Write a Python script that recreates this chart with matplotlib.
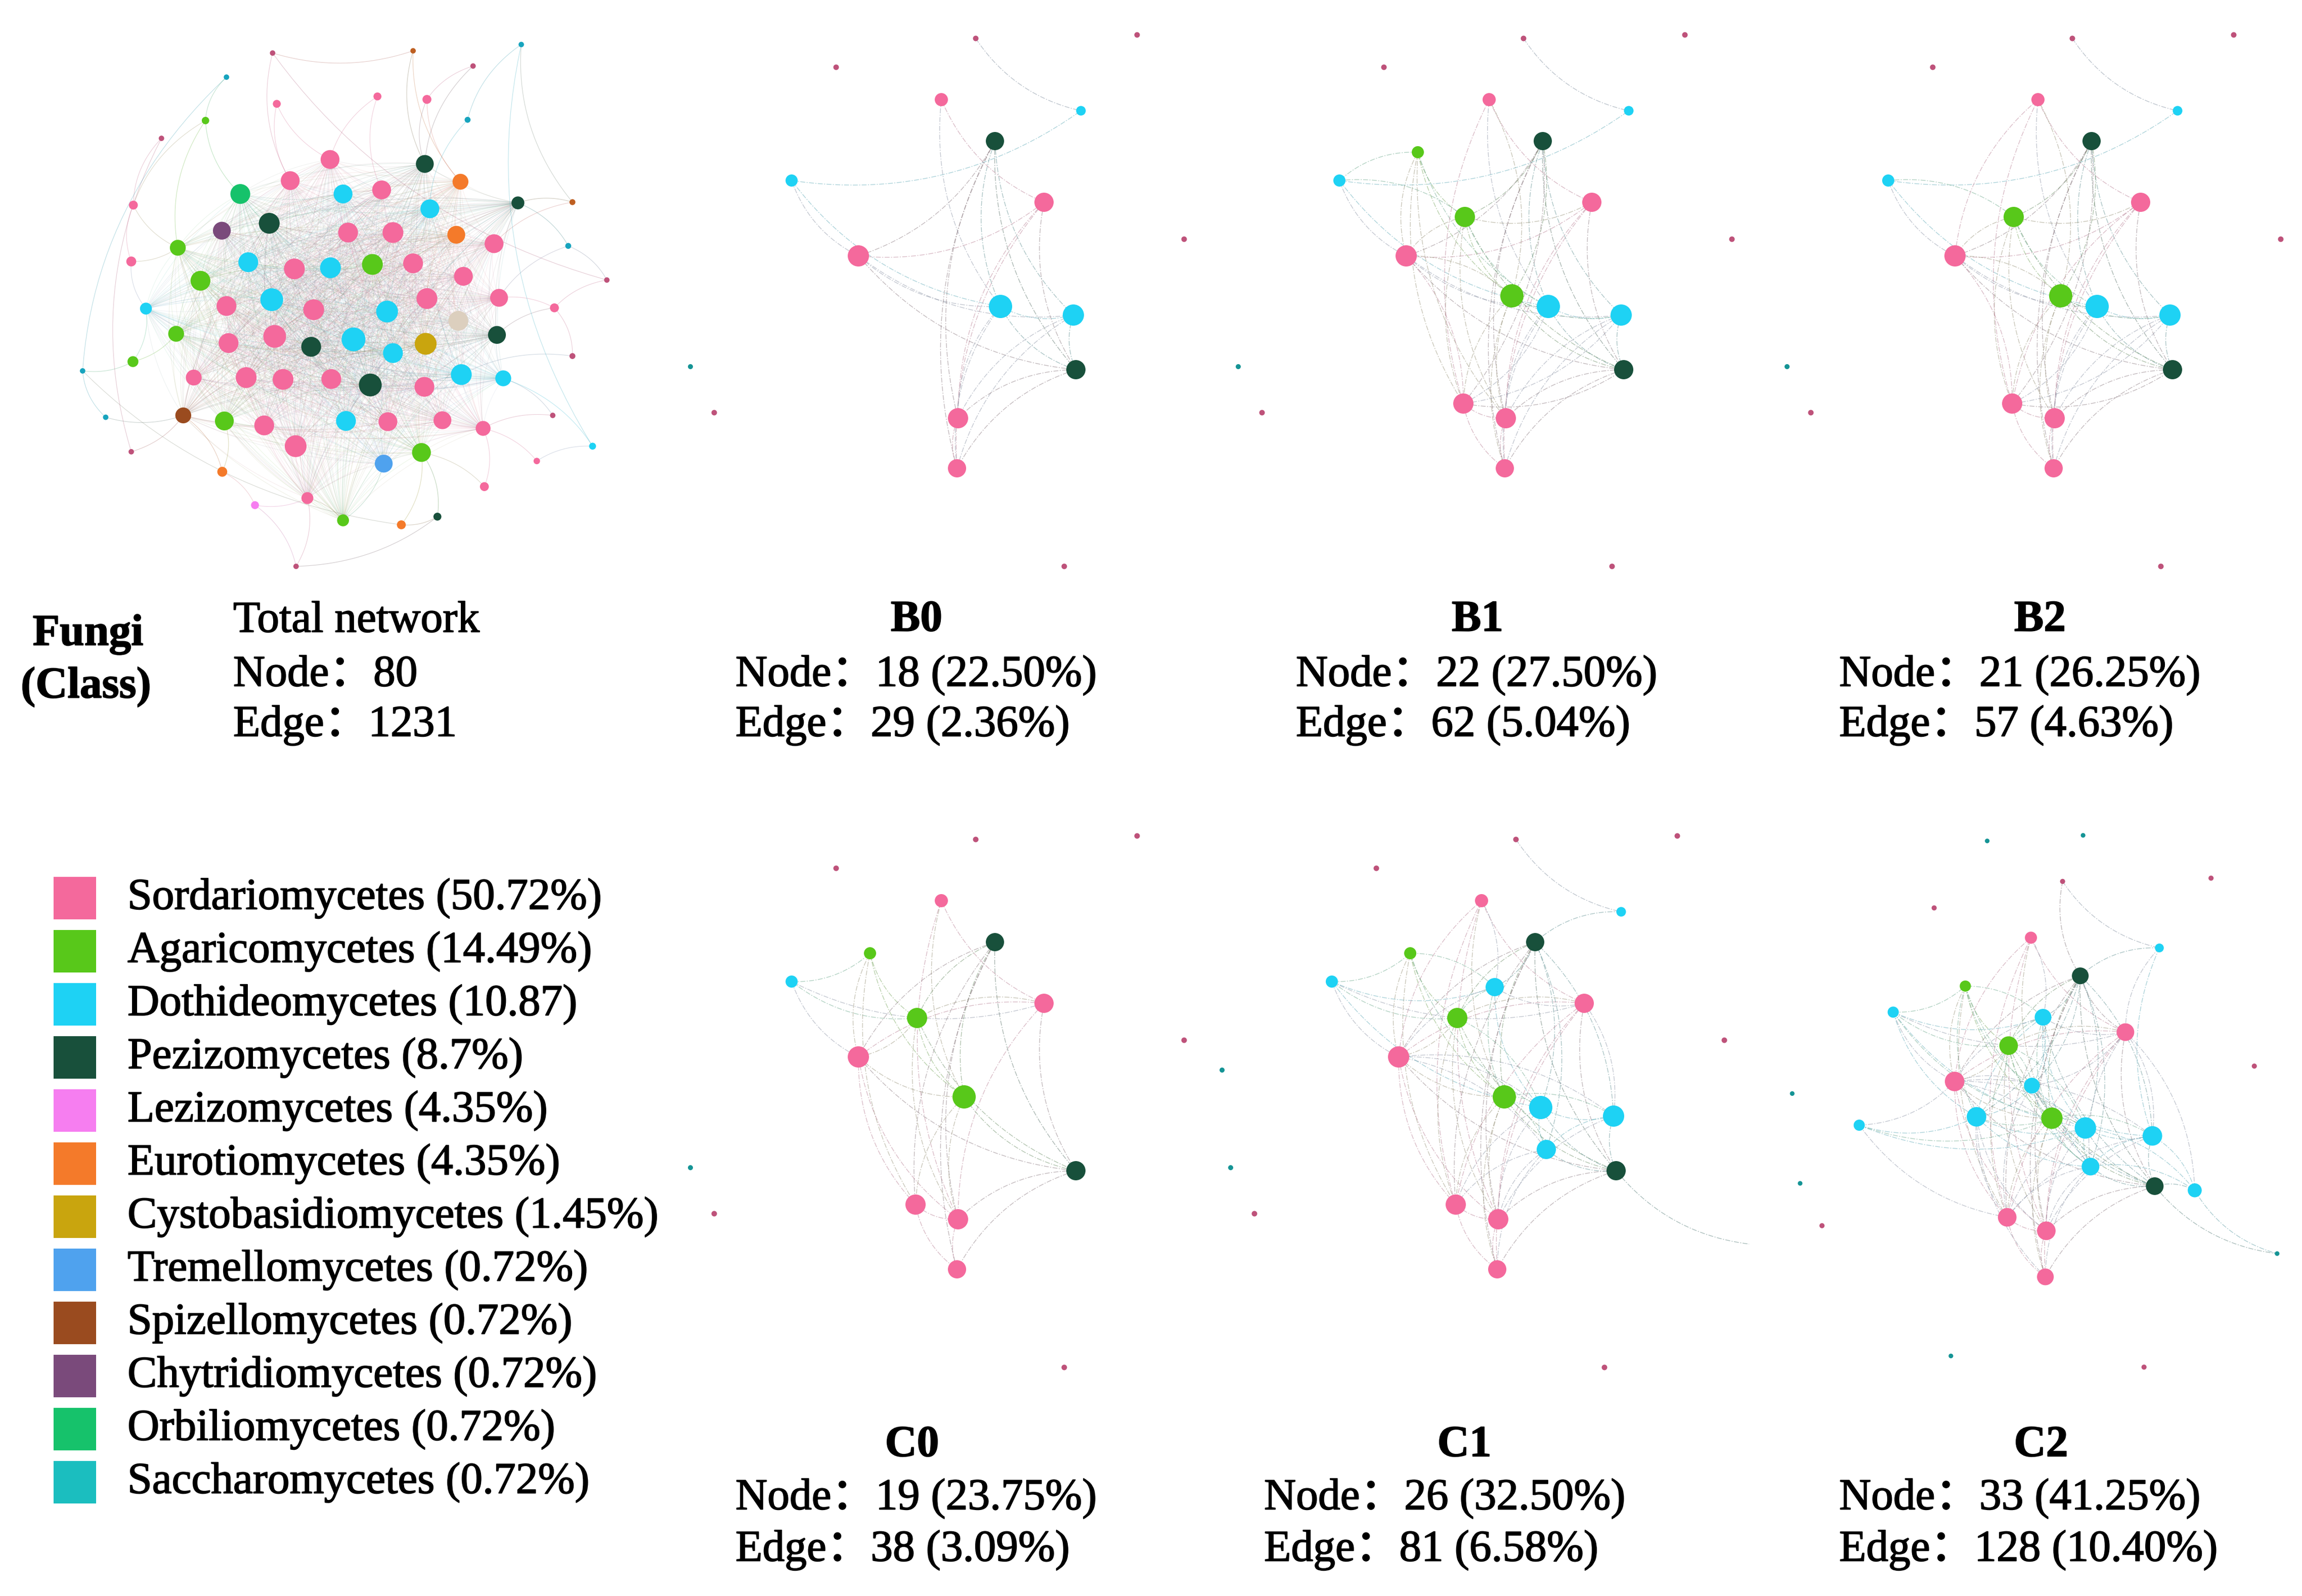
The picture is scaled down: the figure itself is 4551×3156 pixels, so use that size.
import numpy as np
import matplotlib
matplotlib.use('Agg')
import matplotlib.pyplot as plt
import matplotlib.patheffects as pe
from matplotlib.collections import LineCollection
from matplotlib.colors import to_rgb

# Co-occurrence networks of fungal classes: total network + six sub-networks
W, H = 4551, 3156
plt.rcParams['font.family'] = ['Liberation Serif', 'Noto Sans CJK SC']

###########################################################
# 1. Data
###########################################################
class_codes = ['S', 'A', 'D', 'P', 'L', 'E', 'C', 'T', 'Z', 'H', 'O', 'Y']
class_names = ['Sordariomycetes', 'Agaricomycetes', 'Dothideomycetes', 'Pezizomycetes',
               'Lezizomycetes', 'Eurotiomycetes', 'Cystobasidiomycetes', 'Tremellomycetes',
               'Spizellomycetes', 'Chytridiomycetes', 'Orbiliomycetes', 'Saccharomycetes']
class_share = ['(50.72%)', '(14.49%)', '(10.87)', '(8.7%)', '(4.35%)', '(4.35%)',
               '(1.45%)', '(0.72%)', '(0.72%)', '(0.72%)', '(0.72%)', '(0.72%)']
class_colors = ['#F4699C', '#58C81A', '#1ED2F4', '#18503B', '#F67EF0', '#F47A2A',
                '#C9A50E', '#4FA2EE', '#9A4B1F', '#7A4A7B', '#16C26B', '#1BBEBF']
unknown_color = '#DCCFBE'

# Total network (layout units), class code and node diameter
tot_x = [650, 985, 1243, 1128, 540, 660, 900, 1018, 1115, 490,
         385, 787, 1013, 1098, 692, 573, 818, 910, 1235, 1365,
         318, 1025, 642, 529, 830, 937, 1088, 1178, 1355, 424,
         313, 592, 702, 788, 888, 985, 1105, 1447, 478, 648,
         748, 923, 1018, 1190, 1322, 348, 540, 1093, 420, 545,
         655, 742, 843, 1015, 937, 1185, 1365, 317, 197, 462,
         587, 675, 790, 883, 1012, 1100, 1200, 437, 535, 630,
         825, 925, 1055, 1152, 1318, 252, 705, 1005, 915, 1413,
         313, 1280, 530, 1155, 733, 608, 818, 957, 1043, 706]
tot_y = [143, 137, 120, 178, 208, 280, 260, 268, 323, 325,
         373, 430, 442, 490, 487, 523, 523, 512, 547, 545,
         553, 563, 602, 622, 627, 627, 633, 657, 663, 668,
         705, 707, 725, 722, 713, 710, 745, 755, 757, 808,
         835, 840, 805, 803, 830, 832, 825, 865, 900, 925,
         907, 935, 915, 927, 952, 903, 960, 975, 1000, 1018,
         1018, 1023, 1022, 1038, 1043, 1010, 1020, 1120, 1135, 1147,
         1135, 1137, 1133, 1155, 1120, 1125, 1203, 1220, 1250, 1203,
         1218, 1243, 1272, 1312, 1343, 1362, 1403, 1415, 1393, 1527]
tot_cls = ['S', 'E', 'D', 'S', 'D', 'S', 'S', 'S', 'D', 'A',
           'S', 'S', 'P', 'E', 'S', 'O', 'D', 'S', 'P', 'E',
           'S', 'D', 'P', 'H', 'S', 'S', 'E', 'S', 'D', 'A',
           'S', 'D', 'S', 'D', 'A', 'S', 'S', 'S', 'A', 'D',
           'S', 'D', 'S', 'S', 'S', 'D', 'S', 'U', 'A', 'S',
           'S', 'P', 'D', 'C', 'D', 'P', 'S', 'A', 'D', 'S',
           'S', 'S', 'S', 'P', 'S', 'D', 'D', 'Z', 'A', 'S',
           'D', 'S', 'S', 'S', 'S', 'D', 'S', 'A', 'T', 'D',
           'S', 'S', 'E', 'S', 'S', 'L', 'A', 'E', 'P', 'S']
tot_size = [11, 11, 11, 11, 11, 16, 16, 18, 12, 15,
            11, 38, 36, 32, 38, 40, 38, 38, 26, 12,
            18, 38, 42, 36, 40, 42, 36, 38, 12, 32,
            20, 40, 42, 42, 42, 40, 38, 11, 40, 46,
            42, 44, 42, 36, 18, 24, 40, 40, 32, 40,
            46, 40, 48, 44, 40, 36, 12, 22, 11, 32,
            42, 42, 40, 46, 40, 42, 32, 32, 38, 40,
            40, 38, 36, 30, 11, 11, 44, 38, 36, 14,
            11, 13, 20, 18, 24, 16, 24, 18, 16, 11]
# links of the peripheral nodes (1-based ids); the core (size >= 24) is densely linked
tot_outer_edges = [(1, 2), (1, 15), (2, 13), (2, 14), (3, 9), (4, 8), (4, 13), (5, 10),
                   (6, 15), (6, 12), (7, 12), (7, 18), (8, 13), (8, 14), (9, 22), (10, 21),
                   (10, 30), (10, 16), (11, 21), (20, 19), (20, 28), (21, 30), (21, 31),
                   (29, 19), (29, 44), (31, 46), (31, 30), (38, 45), (38, 29), (45, 44),
                   (45, 56), (57, 45), (57, 66), (58, 49), (58, 46), (59, 58), (59, 76),
                   (75, 67), (75, 74), (76, 68), (80, 67), (80, 82), (81, 68), (82, 74),
                   (83, 69), (83, 68), (84, 74), (84, 78), (86, 85), (86, 83), (87, 79),
                   (87, 85), (88, 89), (88, 78), (89, 78), (90, 85), (90, 86), (59, 88),
                   (3, 80), (11, 81), (5, 59), (1, 38), (3, 20), (90, 89)]

# Shared layout of the sub-networks (node id -> x, y, class, diameter)
sub_id = [1, 2, 3, 4, 5, 6, 7, 8, 9, 10, 11, 12, 13, 15, 16, 17, 18, 19,
          20, 21, 22, 23, 25, 26, 30, 31, 32, 33, 34, 35, 36, 37, 38]
sub_x = [1653, 1929, 2248, 1861, 2137, 1967, 1565, 2064, 2341, 1697, 1978, 2122, 1365,
         2127, 1412, 1894, 1892, 2104, 1720, 1813, 1906, 1810, 1887, 1989, 1767, 1973,
         1348, 1863, 1744, 1492, 2213, 2390, 1689]
sub_y = [133, 76, 69, 197, 219, 279, 357, 400, 473, 506, 606, 623, 725,
         731, 816, 827, 926, 1120, 301, 429, 585, 798, 368, 689, -11, -23,
         532, 515, 582, 600, 740, 876, 1096]
sub_cls = ['S', 'S', 'S', 'S', 'D', 'P', 'D', 'S', 'S', 'S', 'D', 'D', 'Y',
           'P', 'S', 'S', 'S', 'S', 'A', 'A', 'A', 'S', 'D', 'D', 'Y', 'Y',
           'Y', 'D', 'D', 'D', 'D', 'Y', 'Y']
sub_size = [11, 11, 11, 26, 19, 36, 24, 38, 11, 42, 46, 42, 10,
            38, 11, 40, 36, 11, 24, 40, 46, 40, 36, 38, 10, 10,
            10, 34, 42, 24, 30, 10, 10]

b0_nodes = [1, 2, 3, 4, 5, 6, 7, 8, 9, 10, 11, 12, 13, 15, 16, 17, 18, 19]
b1_nodes = b0_nodes + [20, 21, 22, 23]
b2_nodes = b0_nodes + [21, 22, 23]
c0_nodes = [1, 2, 3, 4, 6, 7, 8, 9, 10, 13, 15, 16, 17, 18, 19, 20, 21, 22, 23]
c1_nodes = c0_nodes + [5, 11, 12, 25, 26, 32]
c2_nodes = c1_nodes + [30, 31, 33, 34, 35, 36, 37, 38]

b0_edges = [(2, 5), (7, 5), (7, 10), (7, 11), (10, 6), (10, 8), (10, 11), (10, 12), (10, 15),
            (4, 11), (4, 8), (6, 11), (6, 12), (6, 15), (6, 17), (6, 18), (8, 17), (8, 18),
            (8, 15), (11, 12), (11, 15), (11, 17), (11, 18), (12, 15), (12, 17), (12, 18),
            (15, 17), (15, 18), (17, 18)]
b1_extra = [(20, 7), (20, 10), (20, 21), (20, 22), (20, 11), (20, 23), (20, 17),
            (21, 10), (21, 6), (21, 7), (21, 22), (21, 8), (21, 17), (21, 23), (21, 15),
            (21, 11), (22, 11), (22, 12), (22, 15), (22, 17), (22, 18), (22, 23), (22, 10),
            (22, 6), (22, 4), (23, 10), (23, 11), (23, 12), (23, 15), (23, 17), (23, 18),
            (23, 6), (4, 23)]
b1_edges = b0_edges + b1_extra
b2_edges = [e for e in b1_edges if 20 not in e] + [(4, 10), (8, 23)]
c0_edges = [(7, 20), (7, 10), (7, 21), (7, 8), (20, 10), (20, 21), (20, 23), (20, 22),
            (4, 22), (4, 8), (4, 17), (6, 10), (6, 21), (6, 22), (6, 15), (6, 23), (6, 17),
            (6, 18), (8, 10), (8, 21), (8, 17), (8, 15), (10, 21), (10, 22), (10, 15),
            (10, 23), (10, 17), (21, 22), (21, 15), (21, 17), (22, 15), (22, 23), (22, 17),
            (23, 17), (23, 18), (17, 18), (15, 17), (15, 18)]
c1_extra = [(2, 5), (5, 6), (7, 25), (25, 6), (25, 10), (25, 22), (25, 11), (25, 8),
            (25, 21), (25, 20), (25, 4), (11, 22), (11, 12), (11, 26), (11, 15), (11, 10),
            (11, 6), (11, 23), (11, 17), (11, 21), (12, 15), (12, 26), (12, 6), (12, 8),
            (12, 22), (12, 10), (12, 17), (26, 15), (26, 22), (26, 23), (26, 17), (26, 10),
            (26, 6), (26, 18), (15, 37), (4, 10), (4, 23), (8, 23), (8, 18), (21, 23),
            (20, 11), (7, 11), (22, 18)]
c1_edges = c0_edges + c1_extra
c2_extra = [(36, 37), (36, 15), (36, 12), (36, 26), (36, 11), (36, 8), (35, 10), (35, 34),
            (35, 11), (35, 22), (34, 10), (34, 22), (34, 11), (34, 21), (34, 23), (34, 17),
            (34, 18), (34, 6), (34, 26), (34, 33), (33, 10), (33, 22), (33, 11), (33, 6),
            (33, 21), (33, 25), (33, 8), (33, 12), (33, 15), (33, 26), (33, 23), (5, 8),
            (5, 12), (2, 6), (7, 34), (7, 22), (20, 34), (20, 33), (25, 34), (25, 26),
            (25, 15), (22, 26), (21, 26), (12, 23), (8, 26), (6, 8), (35, 23)]
c2_edges = c1_edges + c2_extra

panel_titles = ['B0', 'B1', 'B2', 'C0', 'C1', 'C2']
panel_node_text = ['18 (22.50%)', '22 (27.50%)', '21 (26.25%)',
                   '19 (23.75%)', '26 (32.50%)', '33 (41.25%)']
panel_edge_text = ['29 (2.36%)', '62 (5.04%)', '57 (4.63%)',
                   '38 (3.09%)', '81 (6.58%)', '128 (10.40%)']
total_nodes_n = 80
total_edges_n = 1231

###########################################################
# 2. Helpers
###########################################################
cmap = dict(zip(class_codes, class_colors))
cmap['U'] = unknown_color


def node_rgb(code, size):
    c = np.array(to_rgb(cmap[code]))
    if size <= 12:  # tiny nodes render darker
        c = c * 0.78
    return c


def curved(p0, p1, bend=0.16, n=26):
    p0 = np.asarray(p0, float)
    p1 = np.asarray(p1, float)
    d = p1 - p0
    ctrl = (p0 + p1) / 2 + bend * np.array([-d[1], d[0]])
    t = np.linspace(0, 1, n)[:, None]
    return (1 - t) ** 2 * p0 + 2 * (1 - t) * t * ctrl + t ** 2 * p1


def edge_collection(pos, cols, edges, gray_mix, alpha, lw, ls='-', bend=0.16):
    segs, rgba = [], []
    grey = np.array([0.58, 0.58, 0.58])
    for a, b in edges:
        segs.append(curved(pos[a], pos[b], bend))
        c = (cols[a] + cols[b]) / 2 * (1 - gray_mix) + grey * gray_mix
        rgba.append((*c, alpha))
    return LineCollection(segs, colors=rgba, linewidths=lw, linestyles=ls, zorder=1)


fig = plt.figure(figsize=(W / 100, H / 100), dpi=100)
px_pt = 0.72  # one pixel in points at dpi 100

###########################################################
# 3. Total network
###########################################################
ax_t = fig.add_axes([0, 1 - 1150 / H, 1300 / W, 1150 / H])
ax_t.set_xlim(0, 1568)
ax_t.set_ylim(1568, 0)
ax_t.axis('off')

tot_pos = {i + 1: (tot_x[i], tot_y[i]) for i in range(len(tot_x))}
tot_col = {i + 1: node_rgb(tot_cls[i], tot_size[i]) for i in range(len(tot_x))}
core = [i + 1 for i in range(len(tot_x)) if tot_size[i] >= 24]
core_edges = [(a, b) for k, a in enumerate(core) for b in core[k + 1:]]
ax_t.add_collection(edge_collection(tot_pos, tot_col, core_edges, 0.3, 0.12, 0.8, bend=0.12))
ax_t.add_collection(edge_collection(tot_pos, tot_col, tot_outer_edges, 0.3, 0.35, 0.8, bend=0.18))
ax_t.scatter(tot_x, tot_y, s=[(d * 0.98 * px_pt) ** 2 for d in tot_size],
             c=[tot_col[i + 1] for i in range(len(tot_x))], linewidths=0, zorder=3)

###########################################################
# 4. Sub-networks
###########################################################
sub_pos = {n: (sub_x[i], sub_y[i]) for i, n in enumerate(sub_id)}
sub_col = {n: node_rgb(sub_cls[i], sub_size[i]) for i, n in enumerate(sub_id)}
sub_dia = {n: sub_size[i] for i, n in enumerate(sub_id)}

panel_nodes = [b0_nodes, b1_nodes, b2_nodes, c0_nodes, c1_nodes, c2_nodes]
panel_edges = [b0_edges, b1_edges, b2_edges, c0_edges, c1_edges, c2_edges]
# placement of each panel: x offset, y offset, scale (pixels)
panel_place = [(0, 0, 1.0), (1083, 0, 1.0), (2168, 0, 1.0),
               (0, 1584, 1.0), (1068, 1584, 1.0), (2303, 1673, 0.92)]
X0, X1, Y0, Y1 = 1300, 2470, -90, 1190

for nodes, edges, (dx, dy, s) in zip(panel_nodes, panel_edges, panel_place):
    left = (dx + s * X0) / W
    width = s * (X1 - X0) / W
    bottom = 1 - (dy + s * Y1) / H
    height = s * (Y1 - Y0) / H
    ax = fig.add_axes([left, bottom, width, height])
    ax.set_xlim(X0, X1)
    ax.set_ylim(Y1, Y0)
    ax.axis('off')
    ax.patch.set_alpha(0)
    ax.add_collection(edge_collection(sub_pos, sub_col, edges, 0.6, 0.55, 1.0,
                                      ls=(0, (7, 2, 1.5, 2)), bend=0.2))
    ax.scatter([sub_pos[n][0] for n in nodes], [sub_pos[n][1] for n in nodes],
               s=[(sub_dia[n] * px_pt * s) ** 2 for n in nodes],
               c=[sub_col[n] for n in nodes], linewidths=0, zorder=3)

###########################################################
# 5. Texts
###########################################################
fs = 63
heavy = [pe.withStroke(linewidth=1.3, foreground='black')]


def ftext(x, y, s, **kw):
    fig.text(x / W, 1 - y / H, s, fontsize=fs, va='center', path_effects=heavy, **kw)


ftext(174, 1254, 'Fungi', ha='center', fontweight='bold')
ftext(170, 1358, '(Class)', ha='center', fontweight='bold')
ftext(461, 1228, 'Total network', ha='left')
ftext(461, 1335, f'Node：{total_nodes_n}', ha='left')
ftext(461, 1434, f'Edge：{total_edges_n}', ha='left')

title_x = [1812, 2921, 4033, 1803, 2895, 4035]
text_x = [1454, 2562, 3636, 1454, 2499, 3636]
row_y = [(1226, 1335, 1434)] * 3 + [(2858, 2963, 3065)] * 3
for k in range(6):
    ty, ny, ey = row_y[k]
    ftext(title_x[k], ty, panel_titles[k], ha='center', fontweight='bold')
    ftext(text_x[k], ny, f'Node：{panel_node_text[k]}', ha='left')
    ftext(text_x[k], ey, f'Edge：{panel_edge_text[k]}', ha='left')

###########################################################
# 6. Legend
###########################################################
row_h = 105
ax_l = fig.add_axes([0, 1 - (1776 + 11.5 * row_h) / H, 1350 / W, 12 * row_h / H])
ax_l.set_xlim(0, 1350)
ax_l.set_ylim(11.5, -0.5)
ax_l.axis('off')
rows = np.arange(len(class_names))
ax_l.scatter(np.full(len(rows), 148), rows, s=(84 * px_pt) ** 2, marker='s',
             c=class_colors, linewidths=0)
for i, (name, share) in enumerate(zip(class_names, class_share)):
    ax_l.text(252, i, f'{name} {share}', fontsize=fs, va='center', ha='left',
              path_effects=heavy)

fig.savefig('out.png', dpi=100, facecolor='white')
